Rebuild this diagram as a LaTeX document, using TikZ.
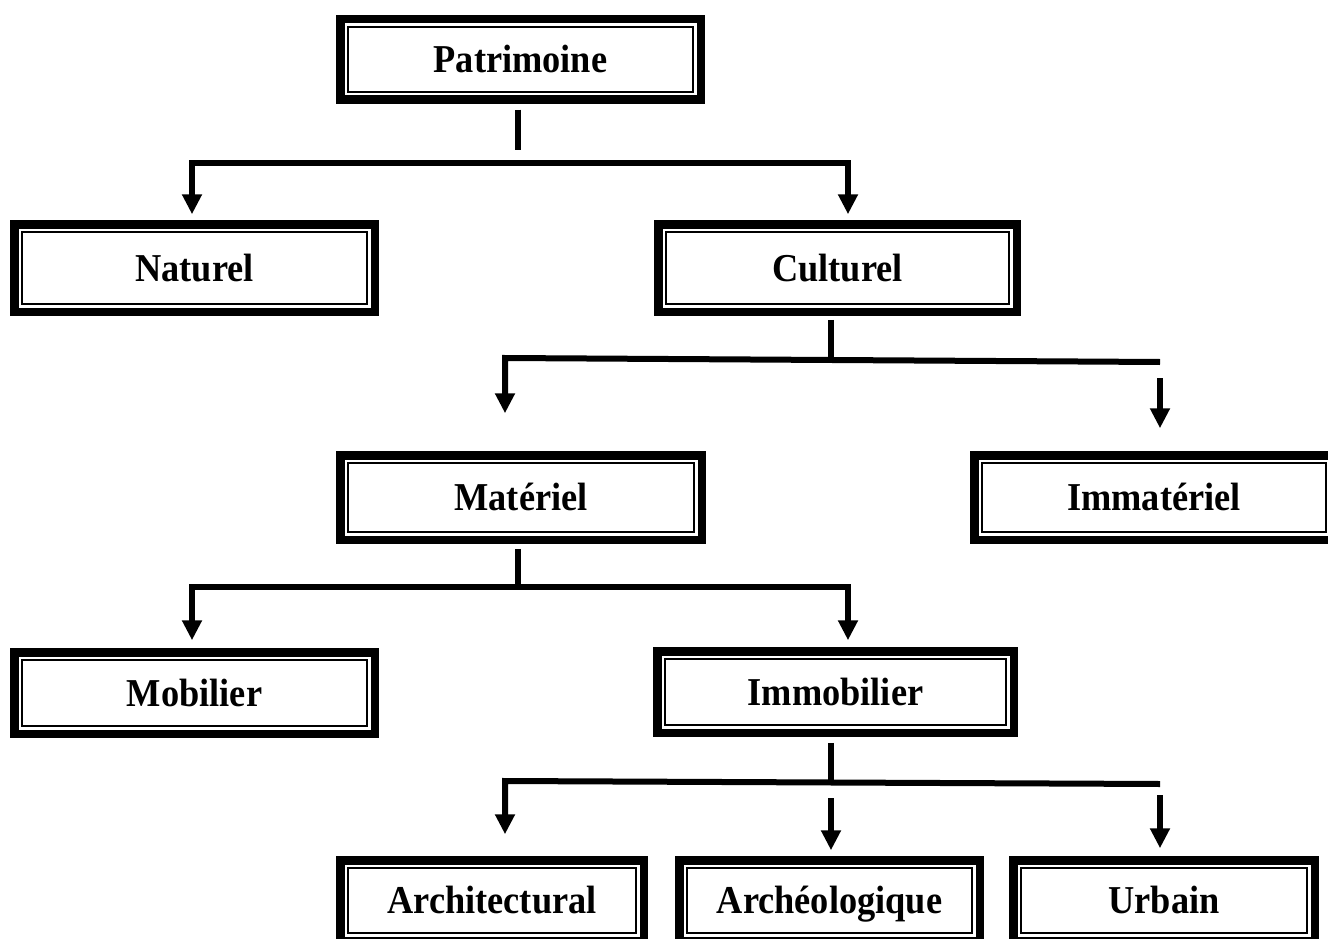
\documentclass[tikz,border=0pt]{standalone}
\usepackage{fontspec}
\setmainfont[FakeStretch=0.92]{Liberation Serif}
\usetikzlibrary{arrows.meta}
\tikzset{
  twinbox/.style={draw, fill=white, line width=8.5pt, inner sep=0pt, outer sep=0pt,
    text height=30pt, text depth=4pt,
    font=\bfseries\fontsize{39.5}{42}\selectfont},
  innerframe/.style={draw, line width=2.2pt},
  conn/.style={line width=6pt, line join=miter},
  arr/.style={conn, -{Triangle[width=19pt,length=20pt]}},
  arrtwo/.style={conn, {Triangle[width=19pt,length=20pt]}-{Triangle[width=19pt,length=20pt]}}
}
\begin{document}
\begin{tikzpicture}[x=1pt,y=-1pt]
\clip (0,0) rectangle (1328,939);
\fill[white] (0,0) rectangle (1328,939);

% boxes (outer size minus border width)
\node[twinbox, minimum width=360.5pt, minimum height=80.5pt] (patri) at (520.5,59.5) {Patrimoine};
\node[twinbox, minimum width=360.5pt, minimum height=87.5pt] (naturel) at (194.5,268) {Naturel};
\node[twinbox, minimum width=358.5pt, minimum height=87.5pt] (culturel) at (837.5,268) {Culturel};
\node[twinbox, minimum width=361.5pt, minimum height=84.5pt] (materiel) at (521,497.5) {Matériel};
\node[twinbox, minimum width=359.5pt, minimum height=84.5pt] (immateriel) at (1154,497.5) {Immatériel};
\node[twinbox, minimum width=360.5pt, minimum height=81.5pt] (mobilier) at (194.5,693) {Mobilier};
\node[twinbox, minimum width=356.5pt, minimum height=81.5pt] (immobilier) at (835.5,692) {Immobilier};
\node[twinbox, minimum width=303.5pt, minimum height=80.5pt] (archi) at (492,900.5) {Architectural};
\node[twinbox, minimum width=300.5pt, minimum height=80.5pt] (archeo) at (829.5,900.5) {Archéologique};
\node[twinbox, minimum width=301.5pt, minimum height=80.5pt] (urbain) at (1164,900.5) {Urbain};

\foreach \n in {patri,naturel,culturel,materiel,immateriel,mobilier,immobilier,archi,archeo,urbain}
  \draw[innerframe] ([shift={(7.6,7.6)}]\n.north west) rectangle ([shift={(-7.6,-7.6)}]\n.south east);

% group 1
\coordinate (s1) at (518,150);
\coordinate (j1l) at (192,163);
\coordinate (j1r) at (848,163);
\draw[conn] (patri.south -| s1) ++(0,10) -- (s1);
\draw[arrtwo] ([yshift=10pt]naturel.north -| j1l) -- (j1l) -- (j1r) -- ([yshift=10pt]culturel.north -| j1r);

% group 2
\coordinate (s2) at (831,360);
\coordinate (j2l) at (505,358);
\coordinate (j2r) at (1160,362);
\coordinate (a2) at (1160,378);
\draw[conn] (culturel.south -| s2) ++(0,8) -- (s2);
\draw[arr] (j2r) -- (j2l) -- ([yshift=42pt]materiel.north -| j2l);
\draw[arr] (a2) -- ([yshift=27pt]immateriel.north -| a2);

% group 3
\coordinate (s3) at (518,587);
\coordinate (j3l) at (192,587);
\coordinate (j3r) at (848,587);
\draw[conn] (materiel.south -| s3) ++(0,9) -- (s3);
\draw[arrtwo] ([yshift=12pt]mobilier.north -| j3l) -- (j3l) -- (j3r) -- ([yshift=11pt]immobilier.north -| j3r);

% group 4
\coordinate (s4) at (831,782);
\coordinate (j4l) at (505,781);
\coordinate (j4r) at (1160,784);
\coordinate (a4m) at (831,798);
\coordinate (a4r) at (1160,795);
\draw[conn] (immobilier.south -| s4) ++(0,10) -- (s4);
\draw[arr] (j4r) -- (j4l) -- ([yshift=26pt]archi.north -| j4l);
\draw[arr] (a4m) -- ([yshift=10pt]archeo.north -| a4m);
\draw[arr] (a4r) -- ([yshift=12pt]urbain.north -| a4r);
\end{tikzpicture}
\end{document}
